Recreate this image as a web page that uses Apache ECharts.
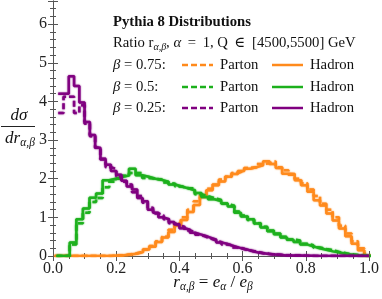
<!DOCTYPE html>
<html><head><meta charset="utf-8">
<script src="https://cdn.jsdelivr.net/npm/echarts@6/dist/echarts.min.js"></script>
<style>html,body{margin:0;padding:0;background:#fff}#c{width:382px;height:299px}</style>
</head><body><div id="c"></div>
<script>
// ---- data ----
// purple (beta = 0.25): bins of width 1/60 starting at 1/60
const purpleStart = 1 / 60, purpleWidth = 1 / 60;
const purpleHadron = [4.2, 4.2, 4.65, 4.4, 3.97, 3.47, 3.13, 2.8, 2.5, 2.36, 2.2, 2.1, 1.95, 1.8, 1.72, 1.5,
  1.42, 1.2, 1.12, 1.0, 0.95, 0.88, 0.82, 0.72, 0.68, 0.6, 0.56, 0.52, 0.47, 0.42, 0.35, 0.32, 0.27, 0.23,
  0.19, 0.16, 0.12, 0.09, 0.07, 0.05, 0.04, 0.03, 0.02, 0.015, 0.01, 0.01, 0.005, 0.005,
  0, 0, 0, 0, 0, 0, 0, 0, 0, 0, 0];
const purpleParton = [3.7, 4.12, 4.12, 3.7, 3.9, 3.42, 3.1, 2.8, 2.52, 2.3, 2.25, 2.05, 1.92, 1.85, 1.65, 1.55,
  1.38, 1.25, 1.1, 1.05, 0.95, 0.85, 0.8, 0.75, 0.66, 0.62, 0.55, 0.5, 0.45, 0.4, 0.36, 0.3, 0.28, 0.22,
  0.2, 0.15, 0.13, 0.1, 0.07, 0.06, 0.04, 0.03, 0.02, 0.02, 0.01, 0.01, 0.005, 0,
  0, 0, 0, 0, 0, 0, 0, 0, 0, 0, 0];
// green (beta = 0.5): bins of width 1/48 starting at 0.0113
const greenStart = 0.0113, greenWidth = 1 / 48;
const greenHadron = [0, 0, 0.35, 0.95, 1.23, 1.51, 1.62, 1.96, 2.0, 2.05, 2.08, 2.26, 2.09, 2.05, 2.0, 1.97,
  1.92, 1.85, 1.8, 1.75, 1.7, 1.63, 1.53, 1.47, 1.42, 1.36, 1.28, 1.12, 1.02, 0.95, 0.84, 0.74, 0.64, 0.56,
  0.48, 0.42, 0.36, 0.3, 0.25, 0.2, 0.16, 0.12, 0.09, 0.05, 0.03, 0.01, 0, 0];
const greenParton = [0, 0, 0.3, 0.85, 1.12, 1.4, 1.5, 1.78, 1.92, 2.0, 2.08, 2.15, 2.15, 2.02, 2.0, 1.98,
  1.9, 1.87, 1.8, 1.76, 1.75, 1.6, 1.55, 1.5, 1.45, 1.35, 1.3, 1.15, 1.05, 0.93, 0.85, 0.76, 0.66, 0.58,
  0.5, 0.43, 0.4, 0.32, 0.28, 0.22, 0.18, 0.15, 0.1, 0.07, 0.04, 0.02, 0.01, 0];
// orange (beta = 0.75): bins of width 0.02 starting at 0.005
const orangeStart = 0.005, orangeWidth = 0.02;
const orangeHadron = [0, 0, 0, 0, 0, 0, 0, 0, 0, 0.01, 0.02, 0.04, 0.06, 0.1, 0.17, 0.24, 0.36, 0.48, 0.62,
  0.79, 0.93, 1.14, 1.32, 1.53, 1.7, 1.83, 1.93, 2.05, 2.12, 2.2, 2.26, 2.3, 2.35, 2.45, 2.38, 2.28, 2.13,
  2.12, 1.96, 1.83, 1.66, 1.44, 1.31, 1.1, 0.92, 0.71, 0.51, 0.32, 0.15, 0];
const orangeParton = [0, 0, 0, 0, 0, 0, 0, 0, 0, 0.01, 0.02, 0.04, 0.07, 0.11, 0.17, 0.26, 0.38, 0.5, 0.68,
  0.85, 1.0, 1.2, 1.42, 1.58, 1.74, 1.85, 1.98, 2.05, 2.15, 2.2, 2.28, 2.3, 2.38, 2.4, 2.45, 2.3, 2.22,
  2.1, 2.0, 1.88, 1.72, 1.55, 1.35, 1.2, 1.0, 0.78, 0.58, 0.38, 0.2, 0.02];
const xTickLabels = ['0.0', '0.2', '0.4', '0.6', '0.8', '1.0'];
const yTickLabels = ['0', '1', '2', '3', '4', '5', '6'];

// ---- helpers ----
function steps(start, width, vals) {
  const d = vals.map((v, i) => [start + i * width, v]);
  d.push([start + vals.length * width, vals[vals.length - 1]]);
  return d;
}
const C_OR = '#ff8a1c', C_GR = '#1cb01c', C_PU = '#800080';
const SERIF = '"Liberation Serif","DejaVu Serif",serif';
function hist(name, color, start, width, vals, dashed) {
  return {
    name, type: 'line', step: 'end', symbol: 'none', animation: false, silent: true,
    data: steps(start, width, vals),
    lineStyle: { color, width: 2.5, type: dashed ? [6, 3] : 'solid', shadowColor: color, shadowBlur: 1.5, opacity: 0.95 }
  };
}

const chart = echarts.init(document.getElementById('c'), null, { renderer: 'canvas' });
const axisCommon = {
  type: 'value', min: 0, max: 1, interval: 0.2,
  axisLine: { show: true, lineStyle: { color: '#555', width: 1 } },
  axisTick: { show: true, inside: true, length: 5, lineStyle: { color: '#555' } },
  minorTick: { show: true, splitNumber: 4, length: 3, lineStyle: { color: '#555' } },
  splitLine: { show: false }
};
const yCommon = {
  type: 'value', min: 0, max: 6.6, interval: 1,
  axisLine: { show: true, lineStyle: { color: '#555', width: 1 } },
  axisTick: { show: true, inside: true, length: 5, lineStyle: { color: '#555' } },
  minorTick: { show: true, splitNumber: 5, length: 3, lineStyle: { color: '#555' } },
  splitLine: { show: false }
};
const lblStyle = { color: '#222', fontFamily: SERIF, fontSize: 16 };

const legendRows = [
  { beta: '0.75', color: C_OR, y: 65 },
  { beta: '0.5', color: C_GR, y: 87 },
  { beta: '0.25', color: C_PU, y: 108 }
];
const FS = 14.7;
const richMain = {
  i: { fontFamily: SERIF, fontStyle: 'italic', fontSize: FS, lineHeight: 18, fill: '#111' },
  n: { fontFamily: SERIF, fontSize: FS, lineHeight: 18, fill: '#111' },
  s: { fontFamily: SERIF, fontStyle: 'italic', fontSize: 10, lineHeight: 8, verticalAlign: 'bottom', fill: '#111' }
};
const richAxis = {
  i: { fontFamily: SERIF, fontStyle: 'italic', fontSize: 17, lineHeight: 20, fill: '#111' },
  n: { fontFamily: SERIF, fontSize: 17, lineHeight: 20, fill: '#111' },
  s: { fontFamily: SERIF, fontStyle: 'italic', fontSize: 11.5, lineHeight: 9, verticalAlign: 'bottom', fill: '#111' }
};
const T = '\u2009';
const graphics = [
  { type: 'text', x: 113, y: 22, style: { text: 'Pythia 8 Distributions', font: 'bold ' + FS + 'px ' + SERIF, fill: '#111', verticalAlign: 'middle' } },
  { type: 'text', x: 113, y: 43, style: { text: '{n|Ratio r}{s|α,β}{n|, }{i|α}{n|' + T + ' = ' + T + '1, Q' + T + ' ∈ ' + T + '[4500,5500] GeV}', rich: richMain, verticalAlign: 'middle' } }
];
legendRows.forEach(r => {
  graphics.push({ type: 'text', x: 113, y: r.y, style: { text: '{i|β}{n| = ' + r.beta + ':}', rich: richMain, verticalAlign: 'middle' } });
  graphics.push({ type: 'line', shape: { x1: 182, y1: r.y, x2: 213, y2: r.y }, style: { stroke: r.color, lineWidth: 2.5, lineDash: [6, 3] } });
  graphics.push({ type: 'text', x: 220, y: r.y, style: { text: '{n|Parton}', rich: richMain, verticalAlign: 'middle' } });
  graphics.push({ type: 'line', shape: { x1: 272, y1: r.y, x2: 303, y2: r.y }, style: { stroke: r.color, lineWidth: 2.5 } });
  graphics.push({ type: 'text', x: 310, y: r.y, style: { text: '{n|Hadron}', rich: richMain, verticalAlign: 'middle' } });
});
// y-axis label (fraction)
graphics.push({ type: 'text', x: 19, y: 116, style: { text: '{i|dσ}', rich: richAxis, align: 'center', verticalAlign: 'middle' } });
graphics.push({ type: 'line', shape: { x1: 1, y1: 126.5, x2: 35, y2: 126.5 }, style: { stroke: '#222', lineWidth: 1 } });
graphics.push({ type: 'text', x: 20, y: 139, style: { text: '{i|dr}{s|α,β}', rich: richAxis, align: 'center', verticalAlign: 'middle' } });
// x-axis label
graphics.push({ type: 'text', x: 213, y: 283, style: { text: '{i|r}{s|α,β}{n| = }{i|e}{s|α}{n| / }{i|e}{s|β}', rich: richAxis, align: 'center', verticalAlign: 'middle' } });

chart.setOption({
  animation: false,
  backgroundColor: '#fff',
  grid: [{ left: 53, right: 9, top: 1, bottom: 43 }],
  xAxis: [
    Object.assign({}, axisCommon, { position: 'bottom', axisLabel: Object.assign({ margin: 5, formatter: v => xTickLabels[Math.round(v / 0.2)] || '' }, lblStyle) }),
    Object.assign({}, axisCommon, { position: 'top', axisLabel: { show: false } })
  ],
  yAxis: [
    Object.assign({}, yCommon, { position: 'left', axisLabel: Object.assign({ margin: 6, formatter: v => yTickLabels[Math.round(v)] || '' }, lblStyle) }),
    Object.assign({}, yCommon, { position: 'right', axisLabel: { show: false } })
  ],
  series: [
    hist('orange parton', C_OR, orangeStart, orangeWidth, orangeParton, true),
    hist('orange hadron', C_OR, orangeStart, orangeWidth, orangeHadron, false),
    hist('green parton', C_GR, greenStart, greenWidth, greenParton, true),
    hist('green hadron', C_GR, greenStart, greenWidth, greenHadron, false),
    hist('purple parton', C_PU, purpleStart, purpleWidth, purpleParton, true),
    hist('purple hadron', C_PU, purpleStart, purpleWidth, purpleHadron, false)
  ],
  graphic: graphics
});
</script></body></html>
